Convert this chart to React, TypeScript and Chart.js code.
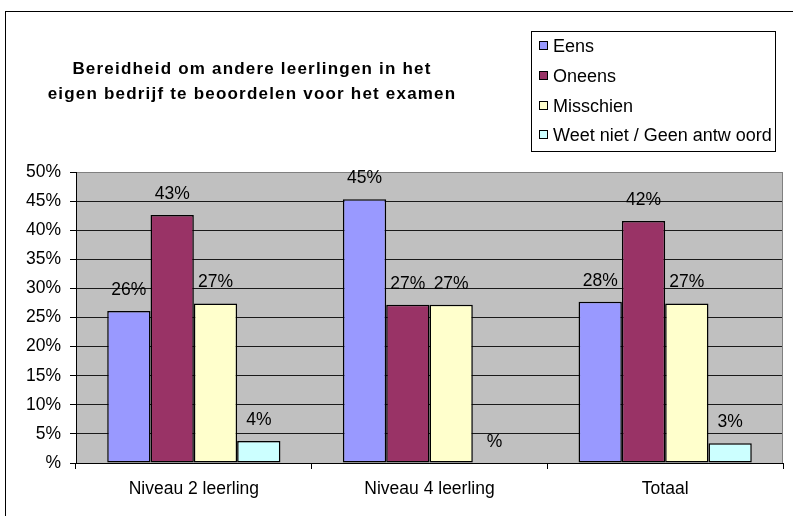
import React, { useEffect, useRef } from "react";
import { Chart, registerables } from "chart.js";

Chart.register(...registerables);

const categories = ["Niveau 2 leerling", "Niveau 4 leerling", "Totaal"];
const seriesNames = ["Eens", "Oneens", "Misschien", "Weet niet / Geen antw oord"];
const eens = [26.1, 45.3, 27.7];
const oneens = [42.6, 27.2, 41.6];
const misschien = [27.4, 27.2, 27.4];
const weetNiet = [3.8, 0, 3.4];
const seriesColors = ["#9999FF", "#993366", "#FFFFCC", "#CCFFFF"];
const titleLines = [
  "Bereidheid om andere leerlingen in het",
  "eigen bedrijf te beoordelen voor het examen",
];
const yMin = 0;
const yMax = 50;
const yStep = 5;

const FONT = "'Liberation Sans', Arial, sans-serif";

const pctLabel = (v: number) => (Math.round(v) === 0 ? "%" : Math.round(v) + "%");

const decorPlugin = {
  id: "decor",
  beforeDraw(chart: any) {
    const { ctx, chartArea: a } = chart;
    ctx.save();
    ctx.fillStyle = "#FFFFFF";
    ctx.fillRect(0, 0, chart.width, chart.height);
    // outer frame
    ctx.strokeStyle = "#000";
    ctx.lineWidth = 1;
    ctx.strokeRect(5.5, 11.5, chart.width + 20, chart.height + 20);
    // plot background
    ctx.fillStyle = "#C0C0C0";
    ctx.fillRect(a.left, a.top, a.right - a.left, a.bottom - a.top);
    ctx.restore();
  },
  afterDraw(chart: any) {
    const { ctx, chartArea: a } = chart;
    ctx.save();
    // right border of plot area
    ctx.strokeStyle = "#808080";
    ctx.lineWidth = 1;
    ctx.beginPath();
    ctx.moveTo(Math.round(a.right) - 0.5, a.top);
    ctx.lineTo(Math.round(a.right) - 0.5, a.bottom);
    ctx.stroke();

    // title
    ctx.fillStyle = "#000";
    ctx.font = `bold 17px ${FONT}`;
    (ctx as any).letterSpacing = "1.2px";
    ctx.textAlign = "center";
    ctx.textBaseline = "alphabetic";
    ctx.fillText(titleLines[0], 252, 74);
    ctx.fillText(titleLines[1], 252, 99);
    (ctx as any).letterSpacing = "0px";

    // legend
    ctx.strokeStyle = "#000";
    ctx.strokeRect(531.5, 31.5, 244, 120);
    const ys = [46, 76, 106, 135];
    ctx.font = `18px ${FONT}`;
    ctx.textAlign = "left";
    ctx.textBaseline = "middle";
    chart.data.datasets.forEach((ds: any, i: number) => {
      const y = ys[i];
      ctx.fillStyle = ds.backgroundColor;
      ctx.fillRect(539.5, y - 4.5, 8, 8);
      ctx.strokeStyle = "#000";
      ctx.strokeRect(539.5, y - 4.5, 8, 8);
      ctx.fillStyle = "#000";
      ctx.fillText(ds.label, 553, y + 1);
    });

    // data labels
    ctx.font = `17.5px ${FONT}`;
    ctx.textAlign = "center";
    ctx.textBaseline = "middle";
    ctx.fillStyle = "#000";
    chart.data.datasets.forEach((ds: any, i: number) => {
      const meta = chart.getDatasetMeta(i);
      meta.data.forEach((el: any, j: number) => {
        ctx.fillText(pctLabel(ds.data[j]), el.x, el.y - 21);
      });
    });
    ctx.restore();
  },
};

export default function App() {
  const ref = useRef<HTMLCanvasElement | null>(null);
  useEffect(() => {
    if (!ref.current) return;
    const values = [eens, oneens, misschien, weetNiet];
    const chart = new Chart(ref.current, {
      type: "bar",
      data: {
        labels: categories,
        datasets: seriesNames.map((name, i) => ({
          label: name,
          data: values[i],
          backgroundColor: seriesColors[i],
          borderColor: "#000",
          borderWidth: 1.5,
          borderSkipped: false,
          categoryPercentage: 0.735,
          barPercentage: 1,
        })),
      },
      options: {
        responsive: false,
        animation: false,
        devicePixelRatio: 1,
        layout: { padding: { top: 172, left: 0, right: 10, bottom: 0 } },
        plugins: {
          legend: { display: false },
          title: { display: false },
          tooltip: { enabled: false },
        },
        scales: {
          x: {
            grid: {
              offset: true,
              drawOnChartArea: false,
              drawTicks: true,
              tickLength: 6,
              color: "#000",
            },
            border: { display: true, color: "#000", width: 1 },
            ticks: {
              color: "#000",
              font: { family: FONT, size: 17.5 },
              padding: 10,
              maxRotation: 0,
            },
            afterFit: (s: any) => {
              s.height = 53;
            },
          },
          y: {
            min: yMin,
            max: yMax,
            grid: {
              color: (c: any) => (c.tick && c.tick.value === yMax ? "#808080" : "#1a1a1a"),
              tickColor: "#000",
              tickLength: 6,
              lineWidth: 1,
            },
            border: { display: true, color: "#000", width: 1 },
            ticks: {
              stepSize: yStep,
              color: "#000",
              font: { family: FONT, size: 17.5 },
              padding: 9,
              callback: (v: any) => (Number(v) === 0 ? "%" : v + "%"),
            },
            afterFit: (s: any) => {
              s.width = 76;
            },
          },
        },
      },
      plugins: [decorPlugin],
    });
    return () => chart.destroy();
  }, []);
  return (
    <div style={{ position: "fixed", left: 0, top: 0, width: 793, height: 516, background: "#fff" }}>
      <canvas ref={ref} width={793} height={516} style={{ width: 793, height: 516, display: "block" }} />
    </div>
  );
}
